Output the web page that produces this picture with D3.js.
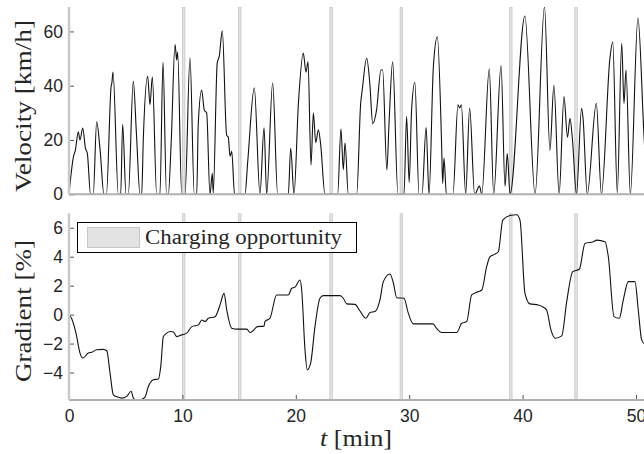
<!DOCTYPE html>
<html>
<head>
<meta charset="utf-8">
<script src="https://cdn.jsdelivr.net/npm/d3@7"></script>
<style>
	body { margin: 0; background: #fff; }
	svg { display: block; }
	.tick text { font-family: "Liberation Sans", Arial, sans-serif; font-size: 17.5px; fill: #262626; }
	.lbl { font-family: "Liberation Serif", "Times New Roman", serif; fill: #262626; }
</style>
</head>
<body>
<div id="container"></div>
<script>
// velocity trace, [t (min), v (km/h)]
var velocity = [
	[0.00,0],[0.40,14],[0.55,16],[0.82,23],[0.97,20],[1.21,24.4],[1.45,17],[1.62,15],[1.90,0],[2.14,0],
	[2.44,26.7],[2.75,16],[3.08,0],[3.30,0],[3.72,40],[3.78,41],[3.88,45],[4.35,0],[4.56,0],[4.73,25.8],
	[5.03,0],[5.23,0],[5.67,41.7],[5.95,22],[6.26,0],[6.41,0],[6.55,20],[6.94,43.5],[7.14,33],[7.35,43.3],
	[7.73,0],[8.02,0],[8.29,48.6],[8.60,0],[8.76,0],[9.02,20],[9.35,55.2],[9.50,49.4],[9.58,52.4],[9.94,0],
	[10.23,0],[10.67,50.2],[11.05,0],[11.26,0],[11.40,26],[11.70,38.4],[11.93,31],[12.14,30],[12.43,0],
	[12.64,7.7],[12.72,0.5],[13.07,48.3],[13.25,50.9],[13.52,60.2],[13.90,21.8],[14.05,21],[14.20,14],
	[14.35,15.8],[14.60,0],[15.52,0],[15.76,12],[16.34,39.2],[16.84,0],[17.20,24.5],[17.43,0],[17.96,41.1],
	[18.40,0],[19.34,0],[19.55,16.9],[19.84,0],[20.23,33.5],[20.66,52],[20.90,45],[21.08,48.8],[21.34,10.8],
	[21.55,30],[21.76,19],[21.99,23.8],[22.20,18.1],[22.57,0],[23.69,0],[23.98,24],[24.19,9],[24.34,19],
	[24.63,0],[25.37,0],[25.72,33.5],[25.86,38.5],[26.25,50.1],[26.53,40.7],[26.78,26],[27.12,31],
	[27.51,45.8],[27.66,45.8],[28.03,9],[28.22,26],[28.54,48.8],[29.01,0],[29.54,0],[29.77,28.7],[30.00,4.4],
	[30.21,31],[30.50,41.3],[30.87,0],[31.13,0],[31.49,24.6],[31.75,0],[32.13,47],[32.48,58],[32.86,18],
	[32.95,4],[33.07,13.4],[33.28,0],[33.86,0],[34.30,33],[34.45,31.8],[34.60,33],[34.98,0],[35.33,31.8],
	[35.77,0],[36.20,3],[36.40,0],[37.06,46.2],[37.45,0],[38.10,47.4],[38.45,3],[38.65,15],[38.89,0],
	[40.20,65.7],[41.10,0],[41.93,69.2],[42.41,16.2],[42.76,40.2],[43.22,0],[43.65,36],[43.96,21],[44.18,28],
	[44.40,20],[44.75,0],[45.20,31.7],[45.33,28],[45.70,0],[46.50,33.5],[46.95,0],[47.70,50.1],[47.95,56.2],
	[48.35,0.5],[48.74,55.6],[48.94,33.5],[49.12,45.8],[49.50,0],[50.17,64.9],[50.70,22],[51.00,0]
];

// road gradient, [t (min), gradient (%)]
var gradient = [
	[0.00,0],[0.25,-0.3],[0.62,-1.3],[0.97,-2.66],[1.21,-3.0],[1.70,-2.66],[2.00,-2.6],[2.44,-2.43],[3.00,-2.4],
	[3.33,-2.5],[3.62,-4.04],[3.91,-5.54],[4.30,-5.7],[4.65,-5.77],[5.09,-5.65],[5.48,-5.3],[5.68,-5.77],
	[6.00,-5.95],[6.26,-5.9],[6.70,-5.7],[7.00,-4.97],[7.43,-4.5],[7.88,-4.45],[8.09,-3.59],[8.32,-1.52],
	[8.62,-1.28],[8.91,-1.17],[9.20,-1.2],[9.50,-1.52],[9.94,-1.4],[10.38,-1.28],[10.82,-0.83],[11.41,-0.71],
	[11.71,-0.37],[12.00,-0.48],[12.29,-0.25],[12.88,-0.14],[13.32,0.67],[13.67,1.47],[13.91,0.32],
	[14.35,-0.94],[14.80,-1.0],[15.67,-1.0],[15.96,-1.24],[16.25,-1.1],[16.60,-0.83],[17.20,-0.8],
	[17.28,-0.48],[17.72,-0.25],[18.31,1.36],[19.34,1.36],[19.64,1.82],[19.93,1.9],[20.37,2.39],[20.52,1.7],
	[20.81,-2.43],[21.01,-3.81],[21.31,-3.35],[21.69,-0.83],[22.13,1.13],[22.42,1.31],[23.90,1.31],
	[24.19,1.13],[24.49,0.74],[25.22,0.71],[25.60,0.32],[26.17,-0.25],[26.54,0.14],[26.98,0.21],[27.42,1.01],
	[27.72,2.28],[28.31,2.81],[28.60,2.2],[28.90,1.17],[29.54,1.13],[29.92,0.1],[30.36,-0.64],[32.10,-0.64],
	[32.40,-0.94],[32.87,-1.24],[34.19,-1.24],[34.63,-0.6],[35.07,-0.48],[35.51,1.36],[36.10,1.59],[36.40,1.7],
	[36.83,3.31],[37.13,4.0],[37.57,4.18],[37.86,4.34],[38.25,6.53],[38.89,6.85],[39.48,6.9],[39.77,6.53],
	[40.21,1.47],[40.65,0.74],[41.39,0.67],[41.83,0.51],[42.12,0.32],[42.50,-1.06],[42.86,-1.63],[43.45,-1.47],
	[43.89,0.9],[44.42,2.97],[45.00,3.13],[45.50,4.92],[46.24,5.04],[46.54,5.15],[47.27,5.04],[47.56,4.0],
	[48.06,-0.14],[48.53,-0.25],[48.88,1.01],[49.32,2.28],[49.91,2.28],[50.20,0.32],[50.50,-1.75],[50.70,-1.97],
	[51.00,-2.0]
];

// charging opportunities (start time, min)
var chargeTimes = [10.0, 14.95, 23.0, 29.2, 38.85, 44.6];
var chargeWidth = 0.22;

var xTicks = [0, 10, 20, 30, 40, 50];
var velTicks = [0, 20, 40, 60];
var gradTicks = [-4, -2, 0, 2, 4, 6];

var width = 644, height = 454;
var left = 69, right = 69 + 51 * 11.34;

var svg = d3.select("#container").append("svg")
	.attr("width", width)
	.attr("height", height);

var x = d3.scaleLinear().domain([0, 51]).range([left, right]);

var panels = [
	{ id: "vel", data: velocity, domain: [0, 69], range: [194.3, 7], ticks: velTicks, showX: false },
	{ id: "grad", data: gradient, domain: [-5.9, 7.0], range: [400, 213.3], ticks: gradTicks, showX: true }
];

panels.forEach(function(p) {
	var y = d3.scaleLinear().domain(p.domain).range(p.range);
	var top = p.range[1], bottom = p.range[0];

	svg.append("clipPath").attr("id", "clip_" + p.id)
		.append("rect")
		.attr("x", left).attr("y", top)
		.attr("width", right - left).attr("height", bottom - top);

	var g = svg.append("g").attr("clip-path", "url(#clip_" + p.id + ")");

	g.selectAll("rect.charge")
		.data(chargeTimes)
		.enter()
		.append("rect")
		.attr("class", "charge")
		.attr("x", function(d) { return x(d); })
		.attr("y", top)
		.attr("width", function(d) { return x(d + chargeWidth) - x(d); })
		.attr("height", bottom - top)
		.attr("fill", "#e3e3e3")
		.attr("stroke", "#c6c6c6")
		.attr("stroke-width", 0.8);

	var line = d3.line()
		.x(function(d) { return x(d[0]); })
		.y(function(d) { return y(d[1]); })
		.curve(d3.curveMonotoneX);

	g.append("path")
		.datum(p.data)
		.attr("d", line)
		.attr("fill", "none")
		.attr("stroke", "#111")
		.attr("stroke-width", 1.1)
		.attr("stroke-linejoin", "round");

	// y axis, ticks point inwards
	var yAxis = svg.append("g")
		.attr("transform", "translate(" + left + ",0)")
		.call(d3.axisLeft(y).tickValues(p.ticks).tickSizeInner(-5).tickSizeOuter(0).tickPadding(6));
	yAxis.select(".domain").remove();
	yAxis.selectAll(".tick line").attr("stroke", "#555");

	// x axis
	var xAxis = svg.append("g")
		.attr("transform", "translate(0," + bottom + ")")
		.call(d3.axisBottom(x).tickValues(p.showX ? xTicks : []).tickSizeInner(-5).tickSizeOuter(0).tickPadding(10));
	xAxis.select(".domain").remove();
	xAxis.selectAll(".tick line").attr("stroke", "#555");

	svg.append("line")
		.attr("x1", left).attr("x2", width)
		.attr("y1", bottom).attr("y2", bottom)
		.attr("stroke", "#b0b0b0")
		.attr("stroke-width", 2);
	svg.append("line")
		.attr("x1", left).attr("x2", left)
		.attr("y1", top).attr("y2", bottom)
		.attr("stroke", "#c9c9c9")
		.attr("stroke-width", 2.5);
});

// axis labels (serif, stretched to the reference widths)
svg.append("text").attr("class", "lbl")
	.attr("transform", "translate(31,106) rotate(-90)")
	.attr("text-anchor", "middle")
	.attr("textLength", 172)
	.attr("lengthAdjust", "spacingAndGlyphs")
	.style("font-size", "22.5px")
	.text("Velocity [km/h]");

svg.append("text").attr("class", "lbl")
	.attr("transform", "translate(31,311) rotate(-90)")
	.attr("text-anchor", "middle")
	.attr("textLength", 142)
	.attr("lengthAdjust", "spacingAndGlyphs")
	.style("font-size", "22.5px")
	.text("Gradient [%]");

var xl = svg.append("text").attr("class", "lbl")
	.attr("x", 320).attr("y", 446)
	.attr("textLength", 72)
	.attr("lengthAdjust", "spacingAndGlyphs")
	.style("font-size", "22.5px");
xl.append("tspan").style("font-style", "italic").text("t");
xl.append("tspan").text(" [min]");

// legend
var leg = svg.append("g");
leg.append("rect")
	.attr("x", 77.5).attr("y", 222.5)
	.attr("width", 279).attr("height", 30)
	.attr("fill", "#fff")
	.attr("stroke", "#000")
	.attr("stroke-width", 1);
leg.append("rect")
	.attr("x", 87.5).attr("y", 227.5)
	.attr("width", 52).attr("height", 20)
	.attr("fill", "#e3e3e3")
	.attr("stroke", "#c6c6c6");
leg.append("text").attr("class", "lbl")
	.attr("x", 145).attr("y", 244)
	.attr("textLength", 197)
	.attr("lengthAdjust", "spacingAndGlyphs")
	.style("font-size", "20px")
	.text("Charging opportunity");
</script>
</body>
</html>
